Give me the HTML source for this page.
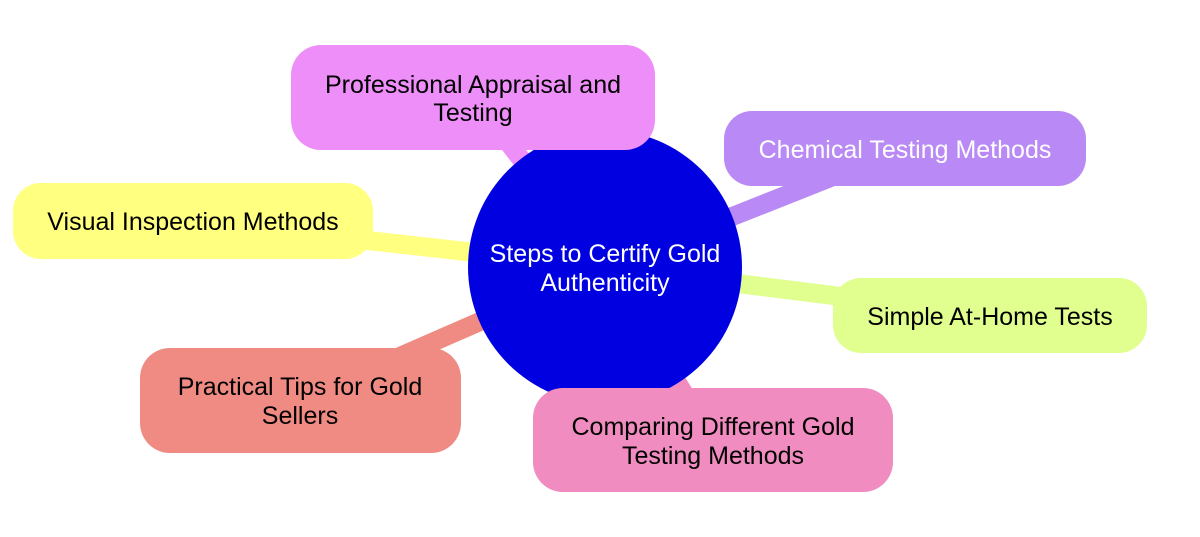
<!DOCTYPE html>
<html><head><style>
html,body{margin:0;padding:0;background:#fff;width:1200px;height:537px;overflow:hidden}
svg text{font-family:"Liberation Sans",sans-serif;font-size:25px;text-anchor:middle}
</style></head><body>
<svg width="1200" height="537" viewBox="0 0 1200 537">
<g stroke-width="19" stroke-linecap="butt">
<line x1="605" y1="267" x2="473" y2="97" stroke="#ee8ef8"/>
<line x1="605" y1="267" x2="905" y2="148" stroke="#b98af5"/>
<line x1="605" y1="267" x2="193" y2="221" stroke="#ffff80"/>
<line x1="605" y1="267" x2="990" y2="315" stroke="#e0ff8f"/>
<line x1="605" y1="267" x2="300" y2="400" stroke="#f08b84"/>
<line x1="605" y1="267" x2="713" y2="440" stroke="#f08cbf"/>
</g>
<circle cx="605" cy="267" r="137" fill="#0000e0"/>
<text x="605" y="262" fill="#fff">Steps to Certify Gold</text>
<text x="605" y="291" fill="#fff">Authenticity</text>

<rect x="291" y="45" width="364" height="105" rx="30" fill="#ee8ef8"/>
<text x="473" y="93">Professional Appraisal and</text>
<text x="473" y="121">Testing</text>

<rect x="724" y="111" width="362" height="75" rx="28" fill="#b98af5"/>
<text x="905" y="158" fill="#fff">Chemical Testing Methods</text>

<rect x="13" y="183" width="360" height="76" rx="28" fill="#ffff80"/>
<text x="193" y="230">Visual Inspection Methods</text>

<rect x="833" y="278" width="314" height="75" rx="28" fill="#e0ff8f"/>
<text x="990" y="325">Simple At-Home Tests</text>

<rect x="140" y="348" width="321" height="105" rx="30" fill="#f08b84"/>
<text x="300" y="395">Practical Tips for Gold</text>
<text x="300" y="424">Sellers</text>

<rect x="533" y="388" width="360" height="104" rx="30" fill="#f08cbf"/>
<text x="713" y="435">Comparing Different Gold</text>
<text x="713" y="464">Testing Methods</text>
</svg>
</body></html>
